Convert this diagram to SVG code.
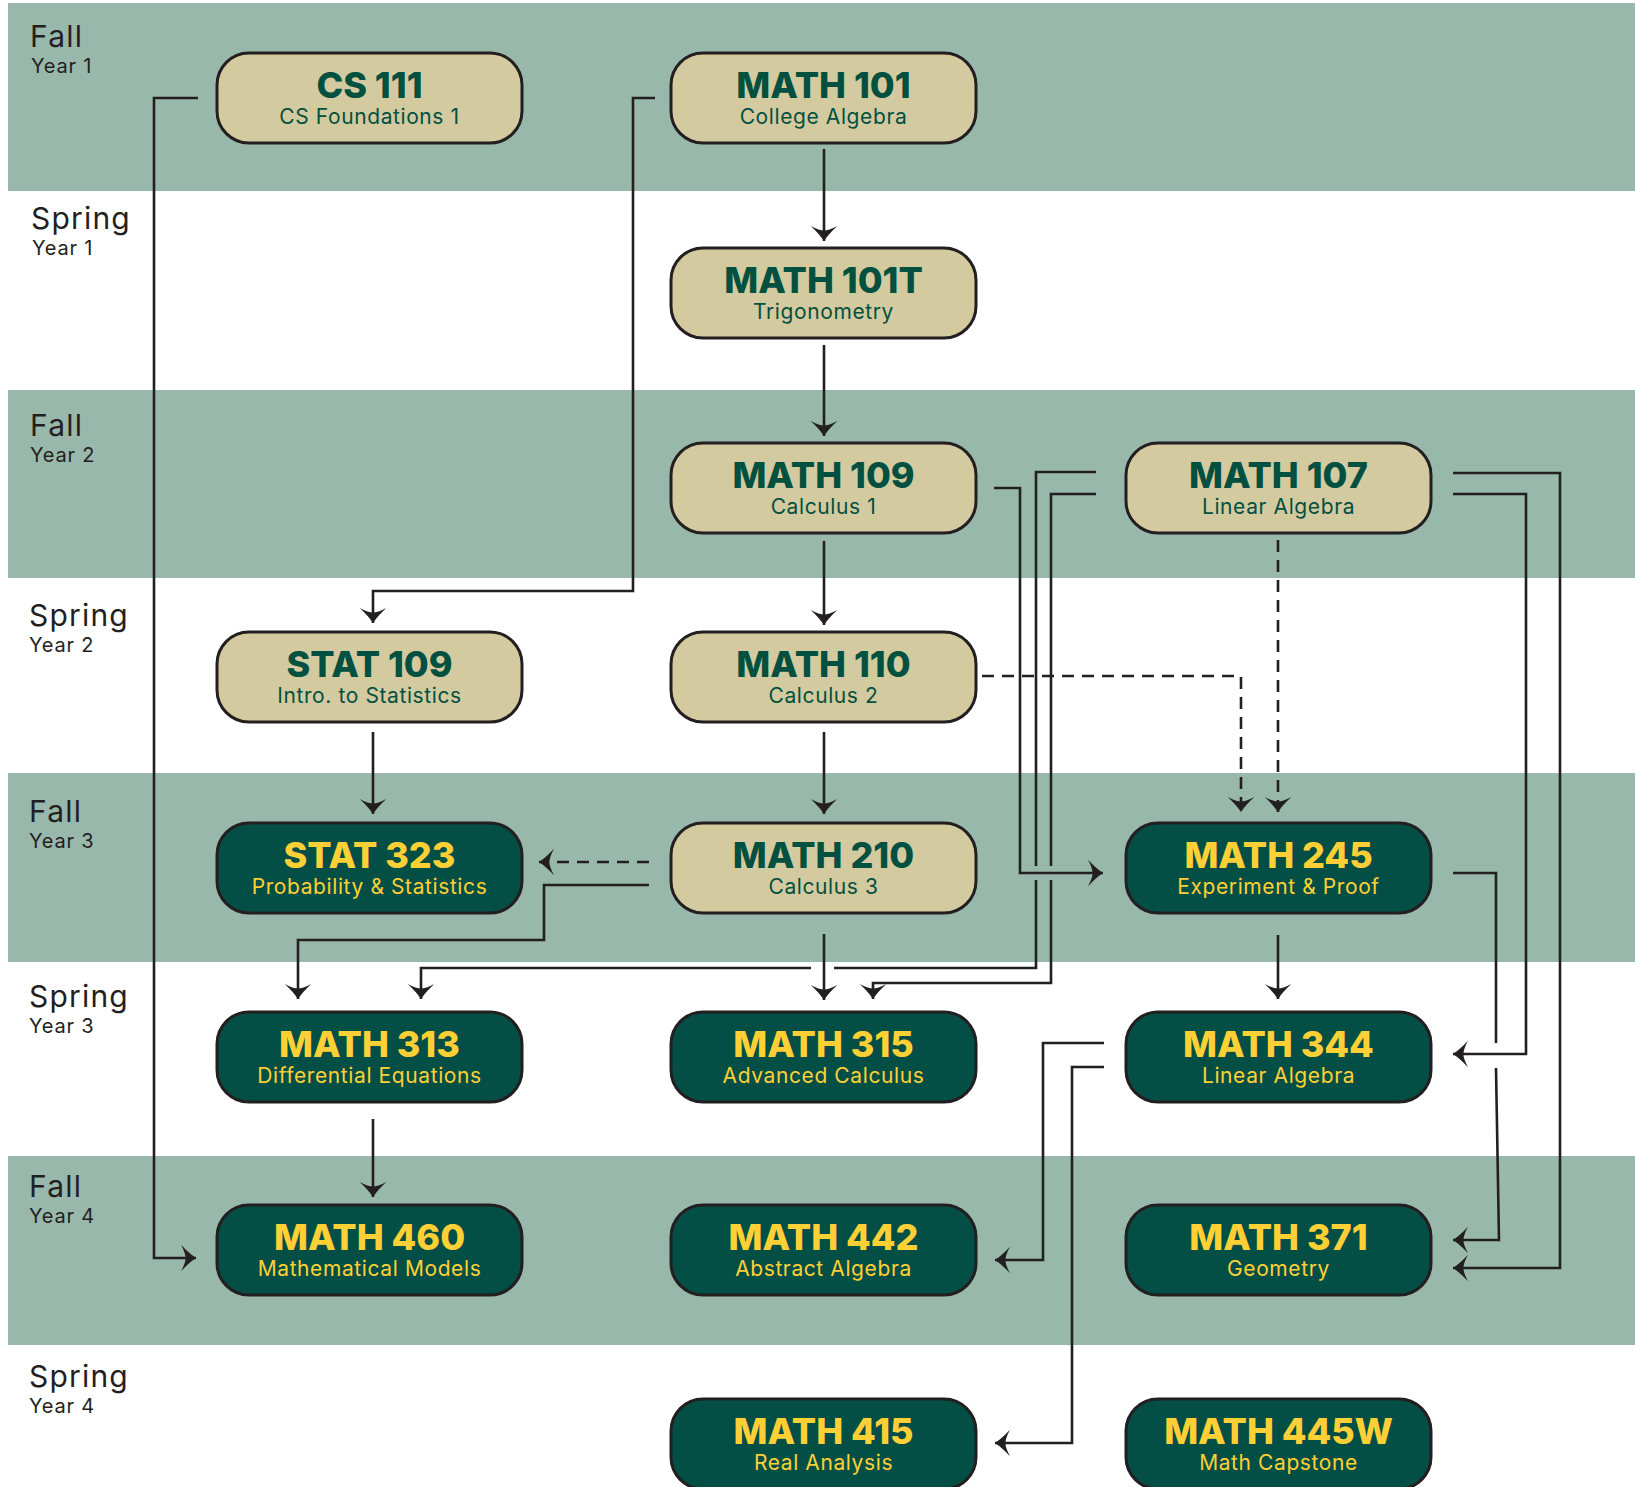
<svg xmlns="http://www.w3.org/2000/svg" width="1635" height="1487" viewBox="0 0 1635 1487">
<defs>
<style>
.band{fill:#99B8AC}
.sem{font-family:Inter,"Liberation Sans",sans-serif;font-size:30px;fill:#231F20;font-weight:400;letter-spacing:1.2px}
.yr{font-family:Inter,"Liberation Sans",sans-serif;font-size:20px;fill:#231F20;font-weight:400;letter-spacing:0.8px}
.box{stroke:#231F20;stroke-width:3}
.lt .box{fill:#D3CA9F}
.dk .box{fill:#034F46}
.t{font-family:Inter,"Liberation Sans",sans-serif;font-size:36px;font-weight:800;text-anchor:middle}
.s{font-family:Inter,"Liberation Sans",sans-serif;font-size:21px;font-weight:400;text-anchor:middle;letter-spacing:0.6px}
.lt text{fill:#02503F}
.dk text{fill:#FFD035}
.c{fill:none;stroke:#231F20;stroke-width:2.6}
.d{stroke-dasharray:12 8}
</style>
<marker id="ah" markerUnits="userSpaceOnUse" markerWidth="30" markerHeight="30" viewBox="-16 -13 18 26" refX="0" refY="0" orient="auto">
<path d="M0,0 Q-6,-4 -13,-11.5 Q-9,-4 -9,0 Q-9,4 -13,11.5 Q-6,4 0,0 Z" fill="#231F20"/>
</marker>
</defs>
<rect width="1635" height="1487" fill="#ffffff"/>
<g id="bands">
<rect class="band" x="8" y="3" width="1627" height="188"/>
<rect class="band" x="8" y="390" width="1627" height="188"/>
<rect class="band" x="8" y="773" width="1627" height="189"/>
<rect class="band" x="8" y="1156" width="1627" height="189"/>
</g>
<g id="semesters">
<text class="sem" x="30" y="47">Fall</text><text class="yr" x="31" y="73">Year 1</text>
<text class="sem" x="31" y="229">Spring</text><text class="yr" x="32" y="255">Year 1</text>
<text class="sem" x="30" y="436">Fall</text><text class="yr" x="30" y="462">Year 2</text>
<text class="sem" x="29" y="626">Spring</text><text class="yr" x="29" y="652">Year 2</text>
<text class="sem" x="29" y="822">Fall</text><text class="yr" x="29" y="848">Year 3</text>
<text class="sem" x="29" y="1007">Spring</text><text class="yr" x="29" y="1033">Year 3</text>
<text class="sem" x="29" y="1197">Fall</text><text class="yr" x="29" y="1223">Year 4</text>
<text class="sem" x="29" y="1387">Spring</text><text class="yr" x="29" y="1413">Year 4</text>
</g>
<g id="connectors">
<path class="c" d="M198,98 H154 V1258 H196" marker-end="url(#ah)"/>
<path class="c" d="M655,98 H633 V591 H373 V623" marker-end="url(#ah)"/>
<path class="c" d="M824,149 V241" marker-end="url(#ah)"/>
<path class="c" d="M824,345 V436" marker-end="url(#ah)"/>
<path class="c" d="M824,541 V625" marker-end="url(#ah)"/>
<path class="c" d="M824,732 V814" marker-end="url(#ah)"/>
<path class="c" d="M373,732 V814" marker-end="url(#ah)"/>
<path class="c" d="M373,1119 V1197" marker-end="url(#ah)"/>
<path class="c" d="M824,934 V1000" marker-end="url(#ah)"/>
<path class="c d" d="M649,862 H539" marker-end="url(#ah)"/>
<path class="c" d="M649,885 H544 V940 H298 V999" marker-end="url(#ah)"/>
<path class="c" d="M1096,472 H1036 V866"/>
<path class="c" d="M1036,880 V968 H834"/>
<path class="c" d="M811,968 H421 V999" marker-end="url(#ah)"/>
<path class="c" d="M1096,494 H1051 V866"/>
<path class="c" d="M1051,880 V983 H873 V999" marker-end="url(#ah)"/>
<path class="c" d="M994,488 H1020 V873 H1103" marker-end="url(#ah)"/>
<path class="c d" d="M982,676 H1241 V812" marker-end="url(#ah)"/>
<path class="c d" d="M1278,540 V812" marker-end="url(#ah)"/>
<path class="c" d="M1278,935 V999" marker-end="url(#ah)"/>
<path class="c" d="M1453,873 H1496 V1043"/>
<path class="c" d="M1496,1068 L1499,1240 H1453" marker-end="url(#ah)"/>
<path class="c" d="M1453,494 H1526 V1054 H1453" marker-end="url(#ah)"/>
<path class="c" d="M1453,473 H1560 V1268 H1453" marker-end="url(#ah)"/>
<path class="c" d="M1104,1043 H1043 V1260 H995" marker-end="url(#ah)"/>
<path class="c" d="M1104,1067 H1072 V1443 H995" marker-end="url(#ah)"/>
</g>
<g id="cs111" class="lt"><rect class="box" x="217" y="53" width="305" height="90" rx="32"/><text class="t" x="369.5" y="98">CS 111</text><text class="s" x="369.5" y="124">CS Foundations 1</text></g>
<g id="math101" class="lt"><rect class="box" x="671" y="53" width="305" height="90" rx="32"/><text class="t" x="823.5" y="98">MATH 101</text><text class="s" x="823.5" y="124">College Algebra</text></g>
<g id="math101t" class="lt"><rect class="box" x="671" y="248" width="305" height="90" rx="32"/><text class="t" x="823.5" y="293">MATH 101T</text><text class="s" x="823.5" y="319">Trigonometry</text></g>
<g id="math109" class="lt"><rect class="box" x="671" y="443" width="305" height="90" rx="32"/><text class="t" x="823.5" y="488">MATH 109</text><text class="s" x="823.5" y="514">Calculus 1</text></g>
<g id="math107" class="lt"><rect class="box" x="1126" y="443" width="305" height="90" rx="32"/><text class="t" x="1278.5" y="488">MATH 107</text><text class="s" x="1278.5" y="514">Linear Algebra</text></g>
<g id="stat109" class="lt"><rect class="box" x="217" y="632" width="305" height="90" rx="32"/><text class="t" x="369.5" y="677">STAT 109</text><text class="s" x="369.5" y="703">Intro. to Statistics</text></g>
<g id="math110" class="lt"><rect class="box" x="671" y="632" width="305" height="90" rx="32"/><text class="t" x="823.5" y="677">MATH 110</text><text class="s" x="823.5" y="703">Calculus 2</text></g>
<g id="stat323" class="dk"><rect class="box" x="217" y="823" width="305" height="90" rx="32"/><text class="t" x="369.5" y="868">STAT 323</text><text class="s" x="369.5" y="894">Probability &amp; Statistics</text></g>
<g id="math210" class="lt"><rect class="box" x="671" y="823" width="305" height="90" rx="32"/><text class="t" x="823.5" y="868">MATH 210</text><text class="s" x="823.5" y="894">Calculus 3</text></g>
<g id="math245" class="dk"><rect class="box" x="1126" y="823" width="305" height="90" rx="32"/><text class="t" x="1278.5" y="868">MATH 245</text><text class="s" x="1278.5" y="894">Experiment &amp; Proof</text></g>
<g id="math313" class="dk"><rect class="box" x="217" y="1012" width="305" height="90" rx="32"/><text class="t" x="369.5" y="1057">MATH 313</text><text class="s" x="369.5" y="1083">Differential Equations</text></g>
<g id="math315" class="dk"><rect class="box" x="671" y="1012" width="305" height="90" rx="32"/><text class="t" x="823.5" y="1057">MATH 315</text><text class="s" x="823.5" y="1083">Advanced Calculus</text></g>
<g id="math344" class="dk"><rect class="box" x="1126" y="1012" width="305" height="90" rx="32"/><text class="t" x="1278.5" y="1057">MATH 344</text><text class="s" x="1278.5" y="1083">Linear Algebra</text></g>
<g id="math460" class="dk"><rect class="box" x="217" y="1205" width="305" height="90" rx="32"/><text class="t" x="369.5" y="1250">MATH 460</text><text class="s" x="369.5" y="1276">Mathematical Models</text></g>
<g id="math442" class="dk"><rect class="box" x="671" y="1205" width="305" height="90" rx="32"/><text class="t" x="823.5" y="1250">MATH 442</text><text class="s" x="823.5" y="1276">Abstract Algebra</text></g>
<g id="math371" class="dk"><rect class="box" x="1126" y="1205" width="305" height="90" rx="32"/><text class="t" x="1278.5" y="1250">MATH 371</text><text class="s" x="1278.5" y="1276">Geometry</text></g>
<g id="math415" class="dk"><rect class="box" x="671" y="1399" width="305" height="90" rx="32"/><text class="t" x="823.5" y="1444">MATH 415</text><text class="s" x="823.5" y="1470">Real Analysis</text></g>
<g id="math445w" class="dk"><rect class="box" x="1126" y="1399" width="305" height="90" rx="32"/><text class="t" x="1278.5" y="1444">MATH 445W</text><text class="s" x="1278.5" y="1470">Math Capstone</text></g>
</svg>
